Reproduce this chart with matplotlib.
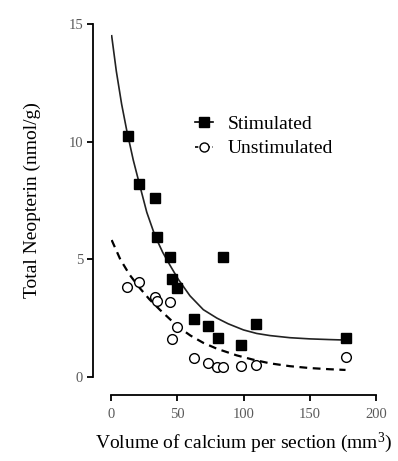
import matplotlib
matplotlib.use("Agg")
import matplotlib.pyplot as plt

stim_x = [12.6, 21.1, 33.2, 35.0, 44.5, 45.8, 50.0, 84.5, 62.6, 73.5, 80.5, 97.9, 109.7, 177.4]
stim_y = [10.25, 8.19, 7.59, 5.96, 5.11, 4.16, 3.77, 5.09, 2.45, 2.17, 1.64, 1.36, 2.24, 1.67]

unstim_x = [12.3, 21.4, 33.2, 35.0, 44.5, 45.8, 50.0, 62.6, 73.5, 79.7, 84.8, 97.9, 109.7, 177.4]
unstim_y = [3.84, 4.05, 3.41, 3.24, 3.17, 1.60, 2.14, 0.79, 0.58, 0.44, 0.44, 0.48, 0.51, 0.86]

# Fitted curves, sampled along the drawn lines
stim_fit_x = [0.5, 4, 8, 11.8, 16.8, 21.9, 27, 33.2, 39, 44.5, 50.8, 59.6, 69.7, 80,
              88.5, 100, 110, 120, 135, 150, 165, 177]
stim_fit_y = [14.5, 13.0, 11.6, 10.5, 9.22, 8.1, 7.0, 6.0, 5.3, 4.75, 4.15, 3.45, 2.86, 2.5,
              2.26, 2.0, 1.85, 1.76, 1.67, 1.62, 1.59, 1.57]

unstim_fit_x = [0.5, 7, 14, 21.4, 29, 37, 45, 52, 60, 69.7, 80, 94.8, 107, 120, 135, 150, 165, 177]
unstim_fit_y = [5.82, 5.0, 4.35, 3.8, 3.3, 2.85, 2.43, 2.08, 1.76, 1.45, 1.2, 0.92, 0.74, 0.58,
                0.46, 0.38, 0.33, 0.30]

x_ticks = [0, 50, 100, 150, 200]
y_ticks = [0, 5, 10, 15]

plt.rcParams["font.family"] = ["Liberation Serif", "DejaVu Serif"]
plt.rcParams["mathtext.default"] = "regular"

fig = plt.figure(figsize=(3.98, 4.61), dpi=100)
ax = fig.add_axes([111 / 398, 84 / 461, 265 / 398, 353 / 461])

ax.plot(stim_fit_x, stim_fit_y, color="#222222", lw=1.2)
ax.plot(unstim_fit_x, unstim_fit_y, color="black", lw=1.6, ls=(0, (3.5, 2.5)))

ax.plot(stim_x, stim_y, ls="none", marker="s", ms=7.5, color="black", clip_on=False)
ax.plot(unstim_x, unstim_y, ls="none", marker="o", ms=7, mfc="white", mec="black",
        mew=1.0, clip_on=False)

# legend handles: marker with line through it
h1, = ax.plot([], [], color="black", lw=1.2, marker="s", ms=7)
h2, = ax.plot([], [], color="black", lw=1.2, ls=(0, (2, 1.5)), marker="o", ms=6.5,
              mfc="white", mew=1.0)
ax.legend([h1, h2], ["Stimulated", "Unstimulated"], frameon=False, fontsize=14,
          loc="upper left", bbox_to_anchor=(0.2525, 0.79), handlelength=0.9,
          handletextpad=0.75, labelspacing=0.34, numpoints=1)

ax.set_xlim(0, 200)
ax.set_ylim(0, 15)
ax.set_xticks(x_ticks)
ax.set_yticks(y_ticks)

for side in ["top", "right"]:
    ax.spines[side].set_visible(False)
for side in ["left", "bottom"]:
    ax.spines[side].set_position(("outward", 13))
    ax.spines[side].set_linewidth(1.3)

ax.tick_params(direction="out", length=4, width=1.3, labelsize=10.5,
               labelcolor="#5a5a5a", pad=3)
ax.tick_params(axis="x", pad=5)

ax.set_xlabel("Volume of calcium per section (mm$^3$)", fontsize=14, labelpad=7)
ax.set_ylabel("Total Neopterin (nmol/g)", fontsize=14, labelpad=20)

fig.savefig("out.png", dpi=100)
